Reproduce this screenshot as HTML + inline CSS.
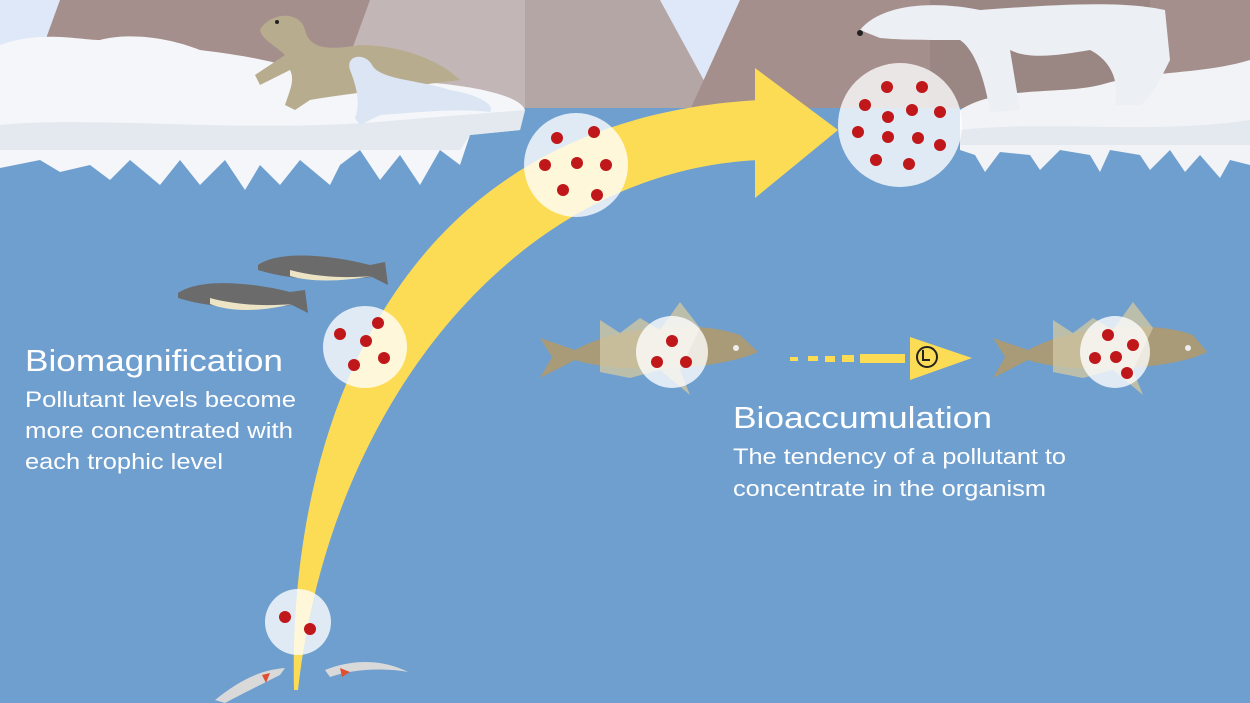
<!DOCTYPE html>
<html><head><meta charset="utf-8"><style>
html,body{margin:0;padding:0;width:1250px;height:703px;overflow:hidden;background:#6f9fcf}
svg{display:block}
text{font-family:"Liberation Sans",sans-serif;fill:#fff}
</style></head><body>
<svg width="1250" height="703" viewBox="0 0 1250 703" xmlns="http://www.w3.org/2000/svg">
<rect width="1250" height="703" fill="#6f9fcf"/>
<rect width="1250" height="110" fill="#dfe8f8"/>
<polygon points="20,110 60,0 370,0 370,110" fill="#a48f8c"/>
<polygon points="370,0 525,0 525,110 330,110" fill="#c3b6b6"/>
<polygon points="525,0 660,0 720,110 525,110" fill="#b5a6a6"/>
<polygon points="690,110 740,0 1250,0 1250,110" fill="#a48f8c"/>
<polygon points="930,0 1150,0 1150,110 930,110" fill="#9a8683"/>
<rect y="108" width="1250" height="4" fill="#6f9fcf"/>
<!-- left ice -->
<path d="M0,45 C40,30 80,40 100,40 C130,32 170,38 200,50 C240,55 270,60 300,70 C340,80 380,80 420,82 C470,85 520,95 525,110 L520,130 L470,135 L460,165 L440,150 L420,185 L400,155 L380,180 L360,150 L340,165 L330,185 L300,160 L280,185 L260,165 L245,190 L225,160 L200,185 L180,160 L160,185 L130,160 L110,180 L90,165 L60,172 L40,160 L0,168 Z" fill="#f4f6f9"/>
<path d="M0,125 C100,115 250,135 400,120 L525,110 L520,130 L470,135 L460,150 L0,150 Z" fill="#e4e9f0"/>
<!-- right ice -->
<path d="M960,110 C1000,85 1060,95 1100,85 C1150,70 1200,75 1250,60 L1250,165 L1230,160 L1220,178 L1200,155 L1185,172 L1170,150 L1150,170 L1140,155 L1110,150 L1100,172 L1090,155 L1060,150 L1040,170 L1030,155 L1000,152 L985,172 L975,155 L960,150 Z" fill="#f1f3f7"/>
<path d="M960,130 C1050,120 1150,135 1250,120 L1250,145 L960,145 Z" fill="#e4e9f0"/>
<!-- polar bear -->
<path d="M860,30 C880,5 930,0 980,10 C1050,5 1120,0 1165,10 L1170,60 C1160,80 1150,100 1140,105 L1115,105 C1120,80 1110,60 1090,50 C1060,55 1030,60 1010,50 L1020,110 L990,112 C985,80 975,50 960,40 C930,40 900,40 880,38 Z" fill="#eceff3"/>
<circle cx="860" cy="33" r="3" fill="#222"/>
<!-- seals -->
<path d="M260,30 C270,12 300,10 305,30 C310,50 330,50 360,45 C400,45 440,60 460,80 L420,85 C380,90 340,95 310,100 L295,110 L285,105 C290,90 295,80 290,70 L260,85 L255,75 L285,55 C275,45 262,40 260,30 Z" fill="#b8ac8e"/>
<circle cx="277" cy="22" r="2" fill="#222"/>
<path d="M350,70 C345,55 365,52 372,65 C380,80 420,80 450,90 C480,95 495,105 490,112 C460,108 420,112 380,115 L360,125 L355,118 C360,105 358,90 350,70 Z" fill="#dbe5f3"/>
<!-- arrow -->
<path d="M294,690 C288,450 380,120 760,100 L760,160 C520,170 330,400 298,690 Z" fill="#fddc55"/>
<polygon points="755,68 838,130 755,198" fill="#fddc55"/>
<g fill="#fff" fill-opacity="0.78">
<ellipse cx="298" cy="622" rx="33" ry="33"/>
<ellipse cx="365" cy="347" rx="42" ry="41"/>
<ellipse cx="576" cy="165" rx="52" ry="52"/>
<ellipse cx="900" cy="125" rx="62" ry="62"/>
</g>
<g fill="#c0171b">
<circle cx="285" cy="617" r="6"/><circle cx="310" cy="629" r="6"/>
<circle cx="340" cy="334" r="6"/><circle cx="378" cy="323" r="6"/><circle cx="366" cy="341" r="6"/><circle cx="354" cy="365" r="6"/><circle cx="384" cy="358" r="6"/>
<circle cx="557" cy="138" r="6"/><circle cx="594" cy="132" r="6"/><circle cx="545" cy="165" r="6"/><circle cx="577" cy="163" r="6"/><circle cx="606" cy="165" r="6"/><circle cx="563" cy="190" r="6"/><circle cx="597" cy="195" r="6"/>
<circle cx="887" cy="87" r="6"/><circle cx="922" cy="87" r="6"/><circle cx="865" cy="105" r="6"/><circle cx="912" cy="110" r="6"/><circle cx="940" cy="112" r="6"/><circle cx="888" cy="117" r="6"/><circle cx="858" cy="132" r="6"/><circle cx="888" cy="137" r="6"/><circle cx="918" cy="138" r="6"/><circle cx="940" cy="145" r="6"/><circle cx="876" cy="160" r="6"/><circle cx="909" cy="164" r="6"/>
</g>
<g fill="#6b6b6b">
<path d="M258,265 C280,250 330,255 370,265 L385,262 L388,285 L372,277 C330,282 290,280 258,270 Z"/>
<path d="M178,293 C200,278 250,282 290,292 L305,290 L308,313 L292,305 C250,310 210,308 178,298 Z"/>
</g>
<path d="M290,270 C320,278 350,278 372,276 C340,282 310,282 290,276 Z" fill="#ece4c4"/>
<path d="M210,298 C240,306 270,306 292,304 C260,312 230,312 210,304 Z" fill="#ece4c4"/>
<g>
<path d="M540,338 L575,350 C620,325 700,320 740,335 L758,352 C720,370 620,375 575,360 L540,378 L552,357 Z" fill="#a99a78"/>
<path d="M600,320 L620,333 L640,318 L660,330 L680,302 L700,328 L680,370 L690,395 L660,370 L630,378 L600,372 Z" fill="#cfc5a3" opacity="0.8"/>
<ellipse cx="672" cy="352" rx="36" ry="36" fill="#fff" fill-opacity="0.78"/>
<circle cx="672" cy="341" r="6" fill="#c0171b"/><circle cx="657" cy="362" r="6" fill="#c0171b"/><circle cx="686" cy="362" r="6" fill="#c0171b"/>
<circle cx="736" cy="348" r="3" fill="#eee"/>
</g>
<g>
<path d="M993,338 L1028,350 C1073,325 1153,320 1193,335 L1207,352 C1173,370 1073,375 1028,360 L993,378 L1005,357 Z" fill="#a99a78"/>
<path d="M1053,320 L1073,333 L1093,318 L1113,330 L1133,302 L1153,328 L1133,370 L1143,395 L1113,370 L1083,378 L1053,372 Z" fill="#cfc5a3" opacity="0.8"/>
<ellipse cx="1115" cy="352" rx="35" ry="36" fill="#fff" fill-opacity="0.78"/>
<circle cx="1108" cy="335" r="6" fill="#c0171b"/><circle cx="1133" cy="345" r="6" fill="#c0171b"/><circle cx="1095" cy="358" r="6" fill="#c0171b"/><circle cx="1116" cy="357" r="6" fill="#c0171b"/><circle cx="1127" cy="373" r="6" fill="#c0171b"/>
<circle cx="1188" cy="348" r="3" fill="#eee"/>
</g>
<g fill="#fddc55">
<rect x="790" y="357" width="8" height="4"/><rect x="808" y="356" width="10" height="5"/><rect x="825" y="356" width="10" height="6"/><rect x="842" y="355" width="12" height="7"/><rect x="860" y="354" width="45" height="9"/>
<polygon points="910,337 972,358 910,380"/>
</g>
<circle cx="927" cy="357" r="10" fill="none" stroke="#222" stroke-width="2"/>
<path d="M923,350 L923,360 L930,360" fill="none" stroke="#222" stroke-width="2"/>
<path d="M215,700 C240,680 260,670 285,668 L280,675 C260,685 240,695 225,703 Z" fill="#d9d9d9"/>
<path d="M325,670 C350,660 380,658 408,672 C380,667 350,670 330,677 Z" fill="#d9d9d9"/>
<path d="M340,668 L350,672 L342,677 Z" fill="#e05030"/>
<path d="M262,675 L270,673 L266,683 Z" fill="#e05030"/>
<text x="25" y="371" font-size="31" textLength="258" lengthAdjust="spacingAndGlyphs">Biomagnification</text>
<text x="25" y="407" font-size="22" textLength="271" lengthAdjust="spacingAndGlyphs">Pollutant levels become</text>
<text x="25" y="438" font-size="22" textLength="268" lengthAdjust="spacingAndGlyphs">more concentrated with</text>
<text x="25" y="469" font-size="22" textLength="198" lengthAdjust="spacingAndGlyphs">each trophic level</text>
<text x="733" y="428" font-size="31" textLength="259" lengthAdjust="spacingAndGlyphs">Bioaccumulation</text>
<text x="733" y="464" font-size="22" textLength="333" lengthAdjust="spacingAndGlyphs">The tendency of a pollutant to</text>
<text x="733" y="496" font-size="22" textLength="313" lengthAdjust="spacingAndGlyphs">concentrate in the organism</text>
</svg>
</body></html>
